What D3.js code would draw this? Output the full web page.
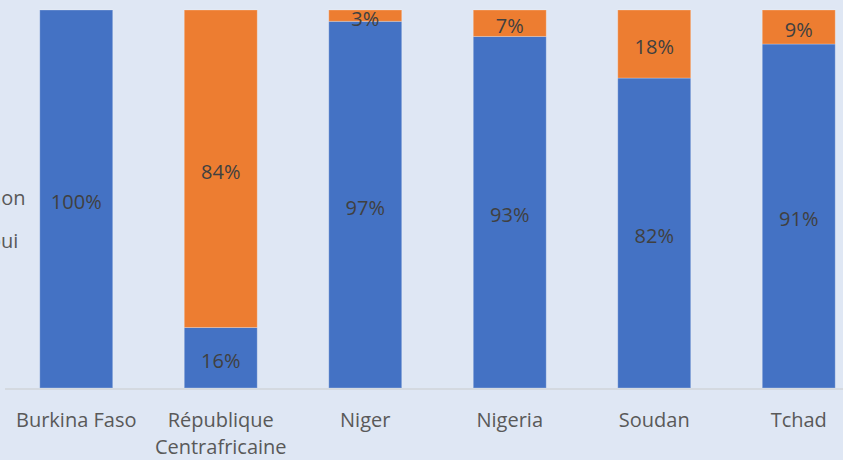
<!DOCTYPE html>
<html>
<head>
<meta charset="utf-8">
<script src="https://cdn.jsdelivr.net/npm/d3@7"></script>
<style>
  html, body { margin: 0; padding: 0; background: #dfe7f4; overflow: hidden; }
  svg { display: block; }
</style>
</head>
<body>
<div id="chart"></div>
<script>
// Chart data
const countries = ["Burkina Faso", "République\nCentrafricaine", "Niger", "Nigeria", "Soudan", "Tchad"];
const oui = [100, 16, 97, 93, 82, 91];
const non = [0, 84, 3, 7, 18, 9];
const seriesNames = ["non", "oui"];
const colors = { oui: "#4472c4", non: "#ed7d31" };

const width = 843, height = 460;
const rows = countries.map((c, i) => ({ country: c, oui: oui[i], non: non[i] }));

const svg = d3.select("#chart").append("svg")
  .attr("width", width)
  .attr("height", height)
  .style("background", "#dfe7f4");

// Scales (plot area runs past the right edge, like the cropped original)
const x = d3.scaleBand().domain(countries).range([4, 871]).paddingInner(0.495).paddingOuter(0.2475);
const y = d3.scaleLinear().domain([0, 100]).range([388, 10]);

const stack = d3.stack().keys(["oui", "non"]);
const layers = stack(rows);

// Bars
const g = svg.append("g");
g.selectAll("g.layer").data(layers).join("g")
  .attr("class", "layer")
  .attr("fill", d => colors[d.key])
  .selectAll("rect").data(d => d).join("rect")
  .attr("x", d => x(d.data.country))
  .attr("width", x.bandwidth())
  .attr("y", d => y(d[1]))
  .attr("height", d => y(d[0]) - y(d[1]))
  .attr("stroke", "rgba(255,255,255,0.25)")
  .attr("stroke-width", 1);

// Data labels
layers.forEach(layer => {
  g.append("g").selectAll("text").data(layer.filter(d => d[1] - d[0] > 0)).join("text")
    .attr("x", d => x(d.data.country) + x.bandwidth() / 2)
    .attr("y", d => (y(d[0]) + y(d[1])) / 2)
    .attr("dy", "0.5em")
    .attr("text-anchor", "middle")
    .attr("font-family", "Open Sans, sans-serif")
    .attr("font-size", 20)
    .attr("fill", "#404040")
    .text(d => (d[1] - d[0]) + "%");
});

// Category axis
const xAxis = svg.append("g").attr("transform", "translate(0,389)");
xAxis.append("line")
  .attr("x1", 5).attr("x2", width)
  .attr("stroke", "#d0d4da").attr("stroke-width", 1.5);

xAxis.selectAll("text").data(countries).join("text")
  .attr("x", d => x(d) + x.bandwidth() / 2)
  .attr("y", 38)
  .attr("text-anchor", "middle")
  .attr("font-family", "Open Sans, sans-serif")
  .attr("font-size", 20)
  .attr("fill", "#595959")
  .each(function(d) {
    const lines = d.split("\n");
    d3.select(this).selectAll("tspan").data(lines).join("tspan")
      .attr("x", x(d) + x.bandwidth() / 2)
      .attr("dy", (l, i) => i === 0 ? 0 : 27)
      .text(l => l);
  });

// Legend (cut off at left edge, as in the original)
svg.append("g").selectAll("text").data(seriesNames).join("text")
  .attr("x", -11)
  .attr("y", (d, i) => 198 + i * 43)
  .attr("dy", "0.35em")
  .attr("font-family", "Open Sans, sans-serif")
  .attr("font-size", 20)
  .attr("fill", "#595959")
  .text(d => d);
</script>
</body>
</html>
